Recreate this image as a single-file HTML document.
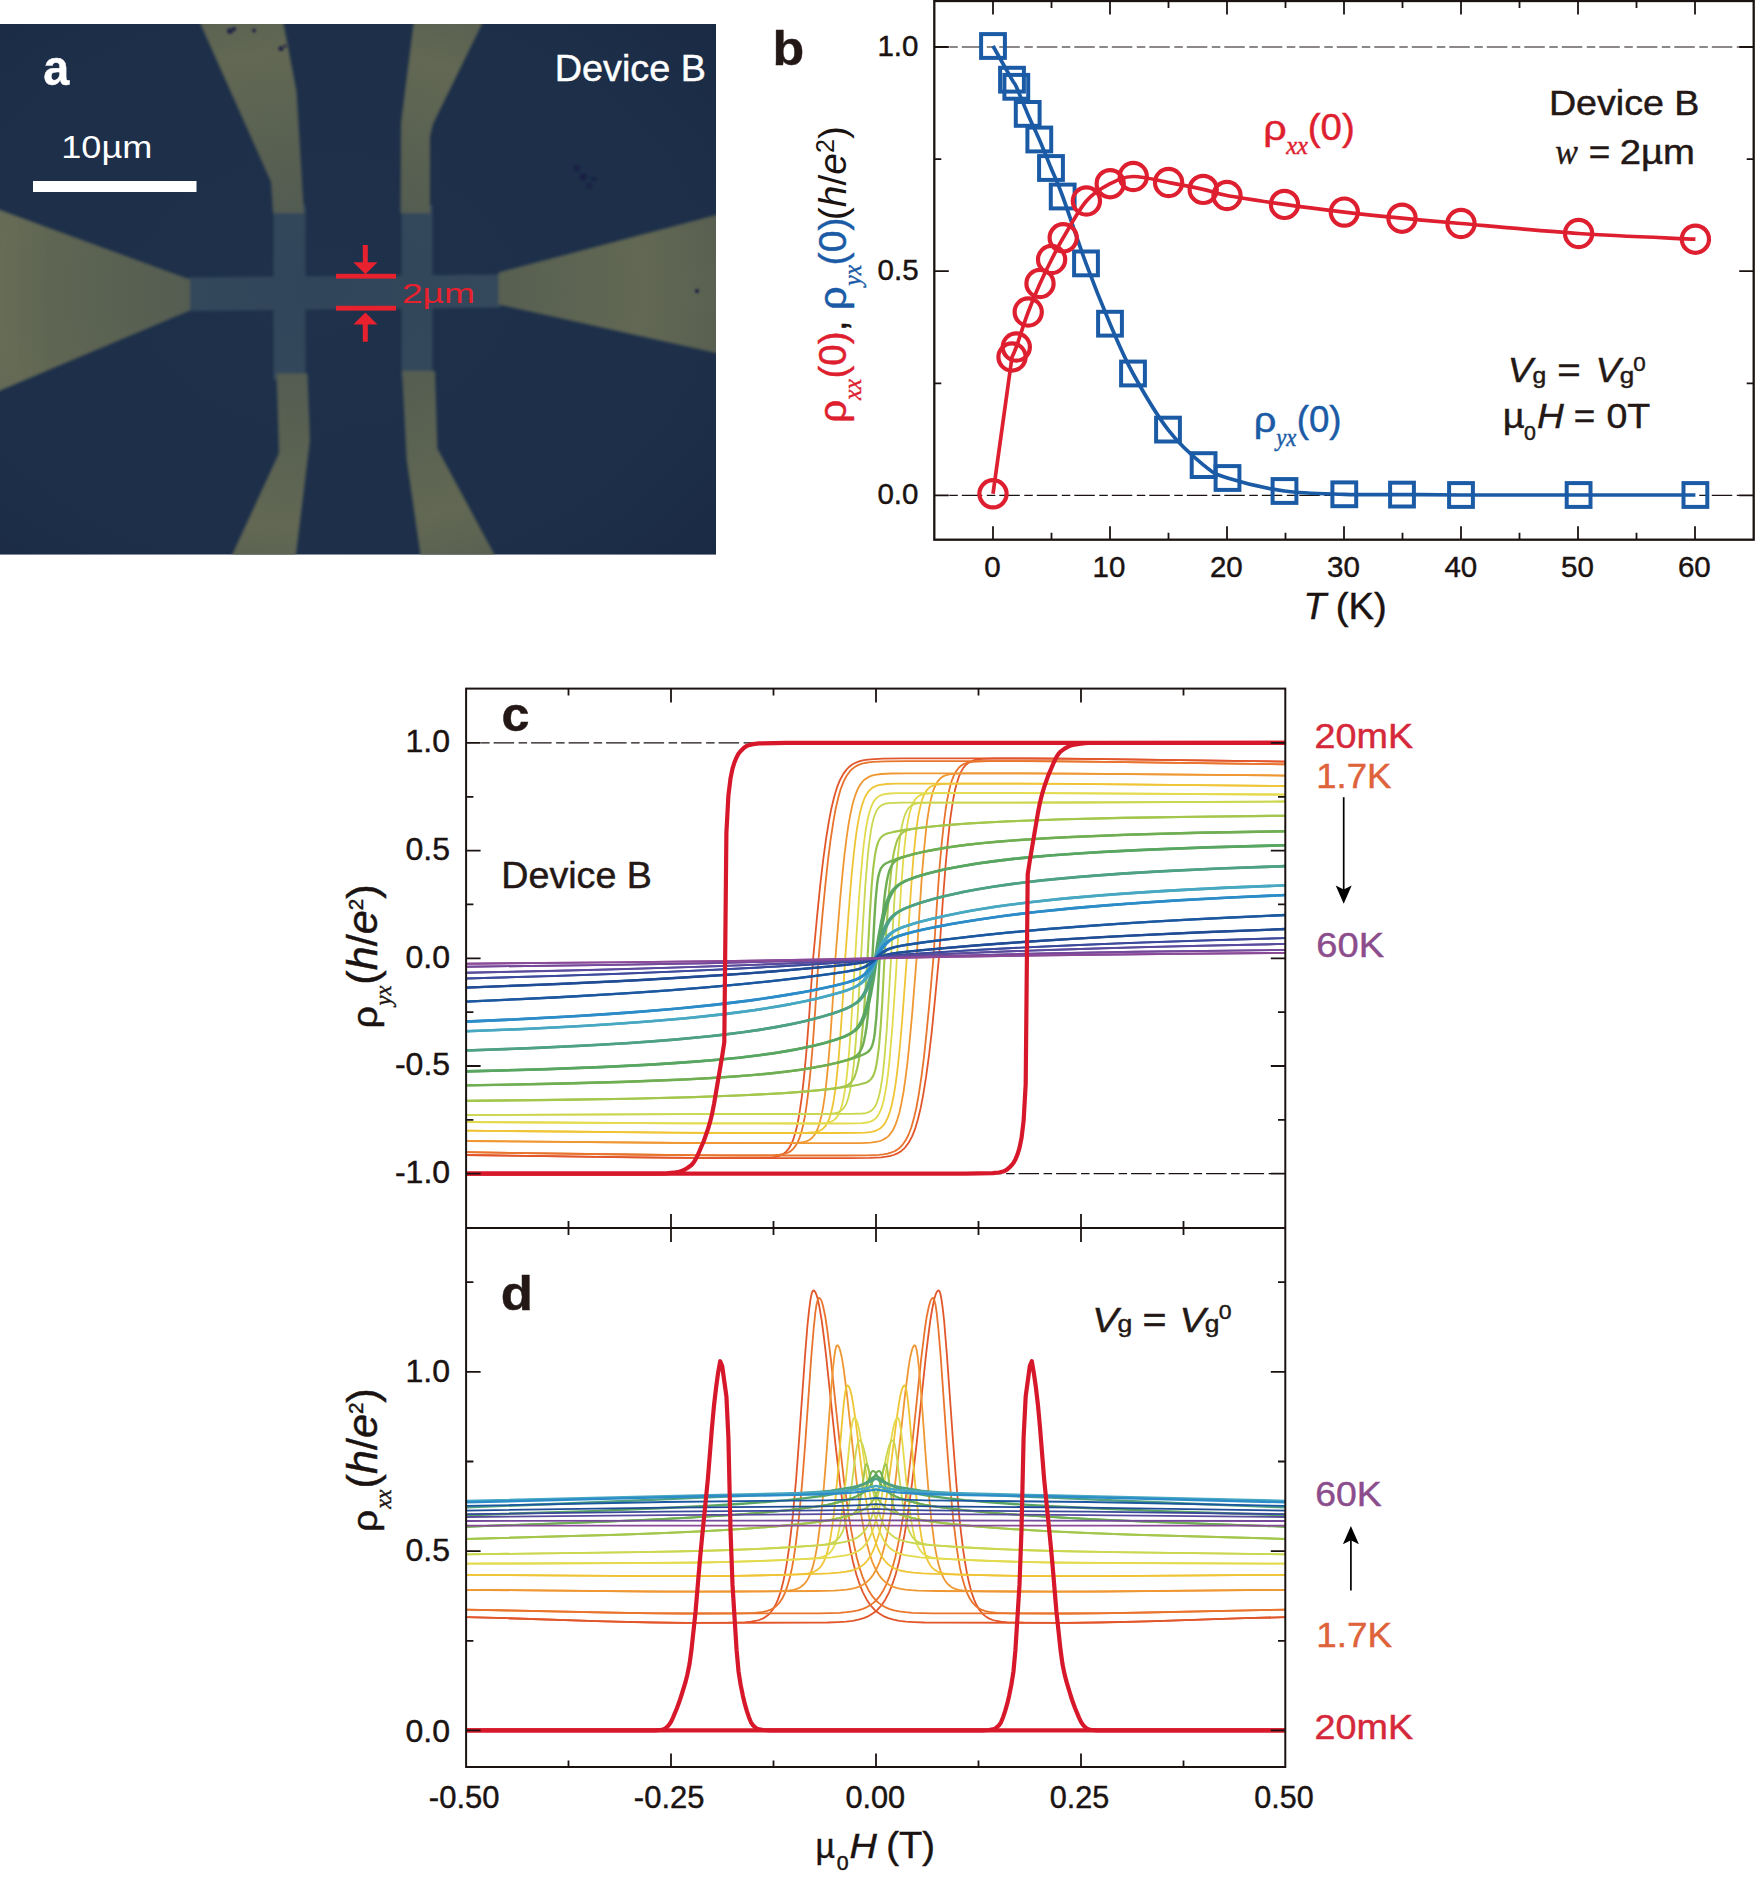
<!DOCTYPE html>
<html lang="en"><head><meta charset="utf-8"><title>Figure</title>
<style>
html,body{margin:0;padding:0;background:#fff;}
body{width:1756px;height:1883px;overflow:hidden;}
svg{display:block;font-family:"Liberation Sans",sans-serif;}
.it{font-style:italic;}
.ser{font-family:"Liberation Serif",serif;font-style:italic;}
</style></head><body>
<svg width="1756" height="1883" viewBox="0 0 1756 1883">
<rect width="1756" height="1883" fill="#fff"/>
<defs>
<clipPath id="clipA"><rect x="0" y="24" width="716" height="530.5"/></clipPath>
<filter id="blurA" x="-5%" y="-5%" width="110%" height="110%"><feGaussianBlur stdDeviation="1.8"/></filter>
<filter id="blurS" x="-50%" y="-50%" width="200%" height="200%"><feGaussianBlur stdDeviation="1.2"/></filter>
<radialGradient id="vigA" cx="0.45" cy="0.5" r="0.75"><stop offset="0" stop-color="#22364f" stop-opacity="0.35"/><stop offset="0.6" stop-color="#1d2f49" stop-opacity="0"/><stop offset="1" stop-color="#141f38" stop-opacity="0.35"/></radialGradient>
<linearGradient id="lgA" x1="0" y1="0" x2="1" y2="0"><stop offset="0" stop-color="#8a8a74" stop-opacity="0.13"/><stop offset="0.3" stop-color="#8a8a70" stop-opacity="0.0"/><stop offset="1" stop-color="#000" stop-opacity="0"/></linearGradient>
</defs>
<g clip-path="url(#clipA)">
<rect x="0" y="24" width="716" height="531" fill="#1d2f49"/>
<g filter="url(#blurA)">
<polygon points="189,277.5 500,274.5 500,307.5 189,311" fill="#384e5f"/>
<rect x="273.5" y="205" width="32" height="175" fill="#384e5f"/>
<rect x="401.5" y="205" width="31" height="172" fill="#384e5f"/>
<polygon points="194.3,10 200.5,24 271,182 273,213 304,213 296.5,91 283.6,24 281,10" fill="#626752"/>
<polygon points="415,10 413.5,24 401,123 400.5,213 430,213 430,137 433,124 482,24 489,10" fill="#626752"/>
<polygon points="-10,206 0,210 190,279.5 190,310.5 0,390.5 -10,395" fill="#626752"/>
<polygon points="730,211.5 716,215 498.5,272.5 498.5,304.5 716,353 730,356" fill="#626752"/>
<polygon points="276.5,373.5 307.5,373.5 310,440 296,554.5 294,570 225,570 232.3,554.5 279,453" fill="#626752"/>
<polygon points="402,371 435,371 437.4,448.5 494.4,554.5 503,570 423,570 420.4,554.5 406.7,460" fill="#626752"/>
</g>
<g filter="url(#blurS)" fill="#1a1f45" opacity="0.85">
<circle cx="230" cy="31" r="3.0"/>
<circle cx="234" cy="29" r="2.2"/>
<circle cx="254" cy="30.5" r="2.0"/>
<circle cx="281" cy="48.5" r="2.6"/>
<circle cx="285" cy="46" r="1.6"/>
<circle cx="577" cy="168" r="2.6"/>
<circle cx="583" cy="177" r="3.2"/>
<circle cx="589" cy="186" r="2.4"/>
<circle cx="594" cy="179" r="2.0"/>
<circle cx="697" cy="291" r="2.2"/>
</g>
<rect x="0" y="24" width="716" height="531" fill="url(#vigA)"/>
<polygon points="-10,206 0,210 190,279.5 190,310.5 0,390.5 -10,395" fill="url(#lgA)" filter="url(#blurA)"/>
</g>
<rect x="33" y="181" width="163.5" height="11" fill="#fff"/>
<text transform="translate(43.20,85.30) scale(0.9434,1.0000)" font-size="49.5" font-weight="bold" fill="#fff" stroke="#fff" stroke-width="0.45">a</text>
<text transform="translate(61.22,157.70) scale(1.1284,1.0000)" font-size="32" fill="#fff">10µm</text>
<text transform="translate(554.79,80.70) scale(1.0353,1.0000)" font-size="36.5" fill="#fff" stroke="#fff" stroke-width="0.45">Device B</text>
<g fill="#e8212f" stroke="none">
<rect x="336" y="273.8" width="60" height="4.8"/>
<rect x="336" y="305.8" width="60" height="4.8"/>
<rect x="362.8" y="245" width="5" height="19"/>
<polygon points="353.3,262.3 377.5,262.3 365.4,274.2"/>
<rect x="362.8" y="323" width="5" height="18.7"/>
<polygon points="353.3,324.4 377.5,324.4 365.4,312.4"/>
</g>
<text transform="translate(401.94,303.20) scale(1.3504,1.0000)" font-size="27.5" fill="#e8212f">2µm</text>
<line x1="949.3" y1="47.0" x2="1739.7" y2="47.0" stroke="#1a1311" stroke-width="1.2" stroke-dasharray="8.5,4,20.5,4.5"/>
<line x1="949.3" y1="495.4" x2="1739.7" y2="495.4" stroke="#1a1311" stroke-width="1.2" stroke-dasharray="8.5,4,20.5,4.5"/>
<path d="M993.0,46.0 C996.2,51.6 1008.1,72.9 1012.0,79.7 C1015.9,86.5 1013.7,81.1 1016.3,86.8 C1018.9,92.5 1023.9,105.1 1027.7,113.9 C1031.5,122.7 1035.4,130.5 1039.3,139.5 C1043.2,148.5 1047.1,158.5 1051.0,168.0 C1054.9,177.5 1056.9,180.6 1062.7,196.5 C1068.5,212.4 1078.1,242.2 1086.0,263.4 C1093.9,284.6 1102.2,305.3 1110.0,323.7 C1117.8,342.1 1123.3,355.9 1133.0,373.5 C1142.7,391.1 1156.2,414.3 1168.0,429.6 C1179.8,444.9 1193.7,457.0 1203.6,465.1 C1213.5,473.2 1214.0,473.7 1227.5,478.0 C1241.0,482.3 1265.0,488.3 1284.5,491.0 C1304.0,493.7 1324.7,493.7 1344.3,494.3 C1363.9,494.9 1382.5,494.5 1402.0,494.6 C1421.5,494.7 1431.6,494.9 1461.0,495.0 C1490.4,495.1 1539.5,495.0 1578.6,495.0 C1617.7,495.0 1675.9,495.0 1695.4,495.0" fill="none" stroke="#1b5ba6" stroke-width="3.7" stroke-linejoin="round"/>
<path d="M993.0,493.8 L1012.0,357.0 C1012.7,355.3 1013.6,354.5 1016.3,347.0 C1019.0,339.5 1024.2,322.6 1028.2,312.0 C1032.2,301.4 1036.1,292.2 1040.0,283.5 C1043.9,274.8 1047.7,267.1 1051.6,259.5 C1055.5,251.9 1057.4,247.6 1063.2,237.8 C1069.0,228.1 1078.6,210.0 1086.4,201.0 C1094.2,192.0 1102.4,187.8 1110.2,183.7 C1118.0,179.6 1123.6,176.7 1133.3,176.5 C1143.0,176.3 1156.9,180.3 1168.6,182.5 C1180.2,184.7 1193.5,187.2 1203.2,189.4 C1212.9,191.6 1213.5,193.0 1227.0,195.5 C1240.5,198.0 1265.0,201.6 1284.5,204.4 C1304.0,207.2 1324.7,209.8 1344.3,212.1 C1363.9,214.4 1382.5,216.3 1402.0,218.2 C1421.5,220.1 1431.6,220.9 1461.0,223.5 C1490.4,226.1 1539.5,230.9 1578.6,233.5 C1617.7,236.1 1675.9,238.2 1695.4,239.2" fill="none" stroke="#de1f30" stroke-width="3.7" stroke-linejoin="round"/>
<rect x="981.1" y="34.1" width="23.8" height="23.8" fill="none" stroke="#1b5ba6" stroke-width="4"/>
<rect x="1000.1" y="67.8" width="23.8" height="23.8" fill="none" stroke="#1b5ba6" stroke-width="4"/>
<rect x="1004.4" y="74.9" width="23.8" height="23.8" fill="none" stroke="#1b5ba6" stroke-width="4"/>
<rect x="1015.8" y="102.0" width="23.8" height="23.8" fill="none" stroke="#1b5ba6" stroke-width="4"/>
<rect x="1027.4" y="127.6" width="23.8" height="23.8" fill="none" stroke="#1b5ba6" stroke-width="4"/>
<rect x="1039.1" y="156.1" width="23.8" height="23.8" fill="none" stroke="#1b5ba6" stroke-width="4"/>
<rect x="1050.8" y="184.6" width="23.8" height="23.8" fill="none" stroke="#1b5ba6" stroke-width="4"/>
<rect x="1074.1" y="251.5" width="23.8" height="23.8" fill="none" stroke="#1b5ba6" stroke-width="4"/>
<rect x="1098.1" y="311.8" width="23.8" height="23.8" fill="none" stroke="#1b5ba6" stroke-width="4"/>
<rect x="1121.1" y="361.6" width="23.8" height="23.8" fill="none" stroke="#1b5ba6" stroke-width="4"/>
<rect x="1156.1" y="417.7" width="23.8" height="23.8" fill="none" stroke="#1b5ba6" stroke-width="4"/>
<rect x="1191.7" y="453.2" width="23.8" height="23.8" fill="none" stroke="#1b5ba6" stroke-width="4"/>
<rect x="1215.6" y="466.1" width="23.8" height="23.8" fill="none" stroke="#1b5ba6" stroke-width="4"/>
<rect x="1272.6" y="479.1" width="23.8" height="23.8" fill="none" stroke="#1b5ba6" stroke-width="4"/>
<rect x="1332.4" y="482.4" width="23.8" height="23.8" fill="none" stroke="#1b5ba6" stroke-width="4"/>
<rect x="1390.1" y="482.7" width="23.8" height="23.8" fill="none" stroke="#1b5ba6" stroke-width="4"/>
<rect x="1449.1" y="483.1" width="23.8" height="23.8" fill="none" stroke="#1b5ba6" stroke-width="4"/>
<rect x="1566.7" y="483.1" width="23.8" height="23.8" fill="none" stroke="#1b5ba6" stroke-width="4"/>
<rect x="1683.5" y="483.1" width="23.8" height="23.8" fill="none" stroke="#1b5ba6" stroke-width="4"/>
<circle cx="993.0" cy="493.8" r="13.6" fill="none" stroke="#de1f30" stroke-width="4.2"/>
<circle cx="1012.0" cy="357.0" r="13.6" fill="none" stroke="#de1f30" stroke-width="4.2"/>
<circle cx="1016.3" cy="347.0" r="13.6" fill="none" stroke="#de1f30" stroke-width="4.2"/>
<circle cx="1028.2" cy="312.0" r="13.6" fill="none" stroke="#de1f30" stroke-width="4.2"/>
<circle cx="1040.0" cy="283.5" r="13.6" fill="none" stroke="#de1f30" stroke-width="4.2"/>
<circle cx="1051.6" cy="259.5" r="13.6" fill="none" stroke="#de1f30" stroke-width="4.2"/>
<circle cx="1063.2" cy="237.8" r="13.6" fill="none" stroke="#de1f30" stroke-width="4.2"/>
<circle cx="1086.4" cy="201.0" r="13.6" fill="none" stroke="#de1f30" stroke-width="4.2"/>
<circle cx="1110.2" cy="183.7" r="13.6" fill="none" stroke="#de1f30" stroke-width="4.2"/>
<circle cx="1133.3" cy="176.5" r="13.6" fill="none" stroke="#de1f30" stroke-width="4.2"/>
<circle cx="1168.6" cy="182.5" r="13.6" fill="none" stroke="#de1f30" stroke-width="4.2"/>
<circle cx="1203.2" cy="189.4" r="13.6" fill="none" stroke="#de1f30" stroke-width="4.2"/>
<circle cx="1227.0" cy="195.5" r="13.6" fill="none" stroke="#de1f30" stroke-width="4.2"/>
<circle cx="1284.5" cy="204.4" r="13.6" fill="none" stroke="#de1f30" stroke-width="4.2"/>
<circle cx="1344.3" cy="212.1" r="13.6" fill="none" stroke="#de1f30" stroke-width="4.2"/>
<circle cx="1402.0" cy="218.2" r="13.6" fill="none" stroke="#de1f30" stroke-width="4.2"/>
<circle cx="1461.0" cy="223.5" r="13.6" fill="none" stroke="#de1f30" stroke-width="4.2"/>
<circle cx="1578.6" cy="233.5" r="13.6" fill="none" stroke="#de1f30" stroke-width="4.2"/>
<circle cx="1695.4" cy="239.2" r="13.6" fill="none" stroke="#de1f30" stroke-width="4.2"/>
<rect x="934.3" y="1.0" width="819.4000000000001" height="538.7" fill="none" stroke="#1a1311" stroke-width="2.3"/>
<path d="M993.0,1.0v13.5M993.0,539.7v-13.5M1051.5,1.0v7M1051.5,539.7v-7M1110.0,1.0v13.5M1110.0,539.7v-13.5M1168.5,1.0v7M1168.5,539.7v-7M1227.0,1.0v13.5M1227.0,539.7v-13.5M1285.5,1.0v7M1285.5,539.7v-7M1344.0,1.0v13.5M1344.0,539.7v-13.5M1402.5,1.0v7M1402.5,539.7v-7M1461.0,1.0v13.5M1461.0,539.7v-13.5M1519.5,1.0v7M1519.5,539.7v-7M1578.0,1.0v13.5M1578.0,539.7v-13.5M1636.5,1.0v7M1636.5,539.7v-7M1695.0,1.0v13.5M1695.0,539.7v-13.5M934.3,495.4h14.5M1753.7,495.4h-14.5M934.3,383.3h7M1753.7,383.3h-7M934.3,271.2h14.5M1753.7,271.2h-14.5M934.3,159.1h7M1753.7,159.1h-7M934.3,47.0h14.5M1753.7,47.0h-14.5" stroke="#1a1311" stroke-width="1.8" fill="none"/>
<text transform="translate(984.31,577.20)" font-size="29.5" fill="#1a1311" stroke="#1a1311" stroke-width="0.45">0</text>
<text transform="translate(1092.56,577.20)" font-size="29.5" fill="#1a1311" stroke="#1a1311" stroke-width="0.45">10</text>
<text transform="translate(1209.94,577.20)" font-size="29.5" fill="#1a1311" stroke="#1a1311" stroke-width="0.45">20</text>
<text transform="translate(1327.12,577.20)" font-size="29.5" fill="#1a1311" stroke="#1a1311" stroke-width="0.45">30</text>
<text transform="translate(1444.38,577.20)" font-size="29.5" fill="#1a1311" stroke="#1a1311" stroke-width="0.45">40</text>
<text transform="translate(1561.06,577.20)" font-size="29.5" fill="#1a1311" stroke="#1a1311" stroke-width="0.45">50</text>
<text transform="translate(1677.94,577.20)" font-size="29.5" fill="#1a1311" stroke="#1a1311" stroke-width="0.45">60</text>
<text transform="translate(877.42,55.60)" font-size="29.5" fill="#1a1311" stroke="#1a1311" stroke-width="0.45">1.0</text>
<text transform="translate(877.55,279.80)" font-size="29.5" fill="#1a1311" stroke="#1a1311" stroke-width="0.45">0.5</text>
<text transform="translate(877.42,504.00)" font-size="29.5" fill="#1a1311" stroke="#1a1311" stroke-width="0.45">0.0</text>
<text transform="translate(1303.55,619.40) scale(1.0299,1.0000)" font-size="36" font-style="italic" fill="#1a1311" stroke="#1a1311" stroke-width="0.45">T</text>
<text transform="translate(1335.82,619.40) scale(1.0598,1.0000)" font-size="36" fill="#1a1311" stroke="#1a1311" stroke-width="0.45">(K)</text>
<text transform="translate(772.46,64.60) scale(1.0599,1.0000)" font-size="49" font-weight="bold" fill="#231815" stroke="#231815" stroke-width="0.45">b</text>
<text transform="translate(845.60,423.07) rotate(-90) scale(1.0817,1)" font-size="38" fill="#de1f30" stroke="#de1f30" stroke-width="0.45">ρ</text>
<text transform="translate(861.40,400.04) rotate(-90) scale(0.9475,1)" font-size="25" font-family="Liberation Serif, serif" font-style="italic" fill="#de1f30" stroke="#de1f30" stroke-width="0.45">xx</text>
<text transform="translate(845.60,378.44) rotate(-90) scale(0.9866,1)" font-size="39" fill="#de1f30" stroke="#de1f30" stroke-width="0.45">(0)</text>
<text transform="translate(845.60,331.30) rotate(-90)" font-size="39" fill="#1a1311" stroke="#1a1311" stroke-width="0.45">,</text>
<text transform="translate(845.60,310.14) rotate(-90) scale(1.1099,1)" font-size="38" fill="#1b5ba6" stroke="#1b5ba6" stroke-width="0.45">ρ</text>
<text transform="translate(861.40,285.80) rotate(-90) scale(0.9409,1)" font-size="25" font-family="Liberation Serif, serif" font-style="italic" fill="#1b5ba6" stroke="#1b5ba6" stroke-width="0.45">yx</text>
<text transform="translate(845.60,265.38) rotate(-90) scale(1.0029,1)" font-size="39" fill="#1b5ba6" stroke="#1b5ba6" stroke-width="0.45">(0)</text>
<text transform="translate(845.6,220.2) rotate(-90)" font-size="39" fill="#1a1311">(<tspan font-style="italic">h</tspan>/<tspan font-style="italic">e</tspan><tspan font-size="25" dy="-11.7">2</tspan><tspan dy="11.7">)</tspan></text>
<text transform="translate(1263.21,139.80) scale(1.1938,1.0000)" font-size="34.5" fill="#de1f30" stroke="#de1f30" stroke-width="0.45">ρ</text>
<text transform="translate(1286.15,153.80) scale(1.0011,1.0000)" font-size="24.5" font-family="Liberation Serif, serif" font-style="italic" fill="#de1f30" stroke="#de1f30" stroke-width="0.45">xx</text>
<text transform="translate(1307.80,139.80) scale(1.0684,1.0000)" font-size="36" fill="#de1f30" stroke="#de1f30" stroke-width="0.45">(0)</text>
<text transform="translate(1253.71,431.80) scale(1.1500,1.0000)" font-size="34.5" fill="#1b5ba6" stroke="#1b5ba6" stroke-width="0.45">ρ</text>
<text transform="translate(1276.15,445.80) scale(0.9270,1.0000)" font-size="24.5" font-family="Liberation Serif, serif" font-style="italic" fill="#1b5ba6" stroke="#1b5ba6" stroke-width="0.45">yx</text>
<text transform="translate(1296.70,431.80) scale(1.0203,1.0000)" font-size="36" fill="#1b5ba6" stroke="#1b5ba6" stroke-width="0.45">(0)</text>
<text transform="translate(1548.91,114.60) scale(1.0755,1.0000)" font-size="35" fill="#231815" stroke="#231815" stroke-width="0.45">Device B</text>
<text transform="translate(1555.29,163.80) scale(0.9290,1.0000)" font-size="36.5" font-family="Liberation Serif, serif" font-style="italic" fill="#231815" stroke="#231815" stroke-width="0.45">w</text>
<text transform="translate(1588.66,163.80) scale(1.0529,1.0000)" font-size="35" fill="#231815" stroke="#231815" stroke-width="0.45">=</text>
<text transform="translate(1619.79,163.80) scale(1.0934,1.0000)" font-size="35" fill="#231815" stroke="#231815" stroke-width="0.45">2µm</text>
<text transform="translate(1507.69,382.40) scale(1.0581,1.0000)" font-size="35.5" font-style="italic" fill="#231815" stroke="#231815" stroke-width="0.45">V</text>
<text transform="translate(1532.62,382.60) scale(1.1200,1.0000)" font-size="22" fill="#231815" stroke="#231815" stroke-width="0.45">g</text>
<text transform="translate(1557.22,382.40) scale(1.1304,1.0000)" font-size="35.5" fill="#231815" stroke="#231815" stroke-width="0.45">=</text>
<text transform="translate(1595.39,382.40) scale(1.0581,1.0000)" font-size="35.5" font-style="italic" fill="#231815" stroke="#231815" stroke-width="0.45">V</text>
<text transform="translate(1619.67,382.60) scale(1.1800,1.0000)" font-size="22" fill="#231815" stroke="#231815" stroke-width="0.45">g</text>
<text transform="translate(1633.20,370.60) scale(1.0667,1.0000)" font-size="21" fill="#231815" stroke="#231815" stroke-width="0.45">0</text>
<text transform="translate(1502.83,427.60) scale(1.0824,1.0000)" font-size="35" fill="#231815" stroke="#231815" stroke-width="0.45">µ</text>
<text transform="translate(1524.02,439.80) scale(1.0430,1.0000)" font-size="20.5" fill="#231815" stroke="#231815" stroke-width="0.45">0</text>
<text transform="translate(1537.02,427.60) scale(1.0449,1.0000)" font-size="35.5" font-style="italic" fill="#231815" stroke="#231815" stroke-width="0.45">H</text>
<text transform="translate(1573.78,427.60) scale(1.0377,1.0000)" font-size="35.5" fill="#231815" stroke="#231815" stroke-width="0.45">=</text>
<text transform="translate(1606.45,427.60) scale(1.0573,1.0000)" font-size="35.5" fill="#231815" stroke="#231815" stroke-width="0.45">0T</text>
<defs><clipPath id="clipC"><rect x="466.1" y="688.6" width="819.1999999999999" height="539.3000000000001"/></clipPath>
<clipPath id="clipD"><rect x="466.1" y="1227.9" width="819.1999999999999" height="539.0999999999999"/></clipPath></defs>
<path d="M481.1,742.9H1271.3M481.1,1173.7H1271.3" stroke="#1a1311" stroke-width="1.2" stroke-dasharray="8.5,4,20.5,4.5" fill="none"/>
<g clip-path="url(#clipC)" fill="none" stroke-linejoin="round" stroke-linecap="round">
<path d="M466,1155L662.8,1157.7L718.1,1158.1L757.1,1158.1L769.4,1157.7L773.1,1157.3L776.4,1156.7L779.2,1155.9L781.7,1154.8L784.2,1153.3L786.2,1151.6L788.7,1148.7L791.1,1144.5L793.2,1139.7L795.2,1133.3L796.9,1126.8L798.5,1118.8L800.1,1108.9L801.8,1097.1L804.2,1075.1L806.3,1052.6L809.2,1015.4L812.9,960.8L817,917.2L820.2,885.3L823.1,860.5L826,839.2L828.9,821.3L831.3,808.7L834.2,796.8L837,787.4L839.9,780.2L843.2,774.1L846.5,769.6L848.5,767.5L850.6,765.7L852.6,764.3L855.1,763L858.4,761.6L861.6,760.7L865.8,759.9L870.7,759.3L882.6,758.7L902.6,758.4L1009.2,758.4L1062.5,758.7L1122,759.3L1286,761.6" stroke="#e2562b" stroke-width="1.8"/>
<path d="M466,1155L630,1157.3L689.5,1157.9L742.8,1158.2L849.4,1158.2L869.4,1157.9L881.3,1157.3L886.2,1156.7L890.4,1155.9L893.6,1155L896.9,1153.6L899.4,1152.3L901.4,1150.9L903.5,1149.1L905.5,1147L908.8,1142.5L912.1,1136.4L915,1129.2L917.8,1119.8L920.7,1107.9L923.1,1095.3L926,1077.4L928.9,1056.1L931.8,1031.3L935,999.4L939.1,955.8L942.8,901.2L945.7,864L947.8,841.5L950.2,819.5L951.9,807.7L953.5,797.8L955.1,789.8L956.8,783.3L958.8,776.9L960.9,772.1L963.3,767.9L965.8,765L967.8,763.3L970.3,761.8L972.8,760.7L975.6,759.9L978.9,759.3L982.6,758.9L994.9,758.5L1033.8,758.5L1089.2,758.9L1286,761.6" stroke="#e2562b" stroke-width="1.8"/>
<path d="M466,1152.2L664.9,1155L720.2,1155.4L763.2,1155.4L775.5,1155.1L779.6,1154.7L782.9,1154.2L785.8,1153.5L788.3,1152.5L790.7,1151.1L792.8,1149.3L795.2,1146.4L797.7,1142.2L799.7,1137.3L801.4,1132.1L803,1125.6L804.7,1117.4L806.3,1107.4L807.9,1095.1L810.4,1072.1L812.5,1048.4L815.3,1009L818.6,958.3L822.7,912.2L825.6,882.6L828,860L830.5,840.3L833.4,821.3L835.8,808.1L838.3,797.5L840.7,789.1L843.6,781.6L846.5,776L849.8,771.4L851.4,769.7L853.5,767.9L855.5,766.5L858,765.1L861.2,763.9L864.5,763L868.6,762.3L873.1,761.8L885,761.3L906.8,761.1L1011.3,761.1L1064.6,761.4L1124,762.1L1286,764.4" stroke="#e8742d" stroke-width="1.8"/>
<path d="M466,1152.2L628,1154.5L687.4,1155.2L740.7,1155.5L845.2,1155.5L867,1155.3L878.9,1154.8L883.4,1154.3L887.5,1153.6L890.8,1152.7L894,1151.5L896.5,1150.1L898.5,1148.7L900.6,1146.9L902.2,1145.2L905.5,1140.6L908.4,1135L911.3,1127.5L913.7,1119.1L916.2,1108.5L918.6,1095.3L921.5,1076.3L924,1056.6L926.4,1034L929.3,1004.4L933.4,958.3L936.7,907.6L939.5,868.2L941.6,844.5L944.1,821.5L945.7,809.2L947.3,799.2L949,791L950.6,784.5L952.3,779.3L954.3,774.4L956.8,770.2L959.2,767.3L961.3,765.5L963.7,764.1L966.2,763.1L969.1,762.4L972.4,761.9L976.5,761.5L988.8,761.2L1031.8,761.2L1087.2,761.6L1286,764.4" stroke="#e8742d" stroke-width="1.8"/>
<path d="M466,1141L673,1142.9L730.5,1143.2L785.4,1143.2L796.5,1142.9L803,1142.2L805.5,1141.6L807.9,1140.7L810,1139.5L811.6,1138.3L814.1,1135.5L816.1,1132.2L818.2,1127.5L819.8,1122.3L821.5,1115.7L823.1,1107.1L824.8,1096.2L826,1086.3L828,1066.1L830.1,1041L832.5,1005.2L835.4,958.3L839.9,902L842.4,874.9L844.4,855.3L846.5,838.5L848.5,824.6L850.6,813.2L852.6,804.1L854.7,797L857.1,790.4L859.6,785.6L862.5,781.7L864.1,780L865.8,778.7L869.4,776.6L871.9,775.6L874.8,774.9L881.3,774L890.8,773.5L907.6,773.4L1011.3,773.4L1064.6,773.6L1286,775.6" stroke="#ef9732" stroke-width="1.8"/>
<path d="M466,1141L687.4,1143L740.7,1143.2L844.4,1143.2L861.2,1143.1L870.7,1142.6L877.2,1141.7L880.1,1141L882.6,1140L886.2,1137.9L887.9,1136.6L889.5,1134.9L892.4,1131L894.9,1126.2L897.3,1119.6L899.4,1112.5L901.4,1103.4L903.5,1092L905.5,1078.1L907.6,1061.3L909.6,1041.7L912.1,1014.6L916.6,958.3L919.5,911.4L921.9,875.6L924,850.5L926,830.3L927.2,820.4L928.9,809.5L930.5,800.9L932.2,794.3L933.8,789.1L935.9,784.4L937.9,781.1L940.4,778.3L942,777.1L944.1,775.9L946.5,775L949,774.4L955.5,773.7L966.6,773.4L1021.5,773.4L1079,773.7L1286,775.6" stroke="#ef9732" stroke-width="1.8"/>
<path d="M466,1130.6L677.1,1132.7L732.5,1133L797.7,1133L808.4,1132.7L814.9,1132.1L817.4,1131.5L819.4,1130.8L821.5,1129.8L823.1,1128.6L825.6,1125.9L827.6,1122.4L829.3,1118.6L830.9,1113.4L832.5,1106.5L833.8,1099.9L835.4,1088.9L836.6,1078.7L838.7,1057.6L840.3,1036.8L842.4,1006.3L845.2,958.3L849.8,897L851.8,873.1L853.5,856.5L855.1,842.3L856.7,830.4L858.4,820.6L860,812.7L862.1,804.9L864.1,799.2L866.6,794.2L869,790.8L871.9,788.1L875.2,786.3L877.6,785.4L880.1,784.8L886.7,784L896.1,783.7L914.5,783.6L1013.4,783.6L1066.7,783.8L1286,786" stroke="#efc435" stroke-width="1.8"/>
<path d="M466,1130.6L685.4,1132.8L738.6,1133L837.5,1133L855.9,1132.9L865.3,1132.6L871.9,1131.8L874.4,1131.2L876.8,1130.3L880.1,1128.5L883,1125.8L885.4,1122.4L887.9,1117.4L889.9,1111.7L892,1103.9L893.6,1096L895.3,1086.2L896.9,1074.3L898.5,1060.1L900.2,1043.5L902.2,1019.6L906.8,958.3L909.6,910.3L911.7,879.8L913.3,859L915.4,837.9L916.6,827.7L918.2,816.7L919.5,810.1L921.1,803.2L922.7,798L924.4,794.2L926.4,790.7L928.9,788L930.5,786.8L932.6,785.8L934.6,785.1L937.1,784.5L943.6,783.9L954.3,783.6L1019.5,783.6L1074.9,783.9L1286,786" stroke="#efc435" stroke-width="1.8"/>
<path d="M466,1122L681.2,1123.3L811.2,1123.5L821.1,1123.3L826.8,1122.8L830.9,1121.7L832.5,1121L834.2,1119.9L836.6,1117.5L838.7,1114.2L840.3,1110.4L842,1105.1L843.6,1097.9L844.8,1090.9L846.1,1082.2L847.3,1071.7L848.9,1054.3L851,1027L856.3,938.6L859.6,890L862.5,856.4L863.7,845L865.3,832.5L866.6,824.9L868.2,816.8L869.9,810.7L871.5,806L873.5,801.9L875.6,799L878.1,796.8L880.9,795.2L884.6,794.1L889.9,793.5L896.9,793.2L909.6,793.1L1064.6,793.2L1286,794.6" stroke="#e3da4e" stroke-width="1.8"/>
<path d="M466,1122L687.4,1123.4L842.4,1123.5L855.1,1123.4L862.1,1123.1L867.4,1122.5L871.1,1121.4L874,1119.8L876.4,1117.6L878.5,1114.7L880.5,1110.6L882.2,1105.9L883.8,1099.8L885.4,1091.7L886.7,1084.1L888.3,1071.6L889.5,1060.2L892.4,1026.6L895.7,978L901,889.6L903.1,862.3L904.7,844.9L905.9,834.4L907.2,825.7L908.4,818.7L910,811.5L911.7,806.2L913.3,802.4L915.4,799.1L917.8,796.7L919.5,795.6L921.1,794.9L925.2,793.8L930.9,793.3L940.8,793.1L1070.8,793.3L1286,794.6" stroke="#e3da4e" stroke-width="1.8"/>
<path d="M466,1115.1L679.2,1114.1L823.1,1113.9L830.5,1113.7L835,1113.2L838.3,1112.3L841.1,1110.7L843.2,1108.8L845.2,1105.8L846.9,1102.3L848.5,1097.2L850.2,1090.1L851.4,1083.1L852.6,1074.3L853.9,1063.4L855.5,1045.4L857.6,1016.9L863.3,917.8L865.3,885.8L867.4,860.1L868.6,847.9L869.9,837.9L871.1,829.9L872.3,823.6L873.5,818.7L875.2,813.8L876.8,810.3L878.9,807.5L880.9,805.7L883.4,804.4L886.2,803.5L889.5,803.1L900.6,802.7L1064.6,802.5L1286,801.5" stroke="#cbd750" stroke-width="1.8"/>
<path d="M466,1115.1L687.4,1114.1L851.4,1113.9L862.5,1113.5L865.8,1113.1L868.6,1112.2L871.1,1110.9L873.1,1109.1L875.2,1106.3L876.8,1102.8L878.5,1097.9L879.7,1093L880.9,1086.7L882.2,1078.7L883.4,1068.7L884.6,1056.5L886.7,1030.8L888.7,998.8L894.4,899.7L896.5,871.2L898.1,853.2L899.4,842.3L900.6,833.5L901.8,826.5L903.5,819.4L905.1,814.3L906.8,810.8L908.8,807.8L910.9,805.9L913.7,804.3L917,803.4L921.5,802.9L928.9,802.7L1072.8,802.5L1286,801.5" stroke="#cbd750" stroke-width="1.8"/>
<path d="M466,1100.9L554.1,1099.9L628,1098.7L689.5,1097.3L738.6,1095.5L761.2,1094.4L782.1,1093.2L800.6,1091.9L817.4,1090.4L830.9,1088.9L839.5,1087.6L844.8,1086.3L846.9,1085.5L848.5,1084.6L850.6,1082.9L852.6,1080.4L854.3,1077.4L855.9,1073L857.1,1068.6L858.4,1062.8L859.6,1055.3L860.8,1045.9L862.9,1025.3L865.3,992.4L867.4,960.4L869.9,913.3L871.5,888L873.1,869.3L874.8,856.4L875.6,851.8L876.8,846.4L878,842.6L879.3,839.9L880.9,837.5L882.6,835.9L884.6,834.6L887.1,833.5L893.6,831.9L904.7,829.9L918.6,828L933.8,826.3L949.8,824.9L967.8,823.5L1009.2,821.3L1058.5,819.5L1120,817.9L1193.8,816.7L1286,815.7" stroke="#a3c64c" stroke-width="2.1"/>
<path d="M466,1100.9L558.2,1099.9L632,1098.7L693.5,1097.1L742.8,1095.3L784.2,1093.1L802.2,1091.7L818.2,1090.3L833.4,1088.6L847.3,1086.7L858.4,1084.7L864.9,1083.1L867.4,1082L869.4,1080.7L871.1,1079.1L872.7,1076.7L874,1074L875.2,1070.2L876.4,1064.8L877.2,1060.2L878.9,1047.3L880.5,1028.6L882.2,1003.3L884.6,956.2L886.7,924.2L889.1,891.3L891.2,870.7L892.4,861.3L893.6,853.8L894.9,848L896.1,843.6L897.7,839.2L899.4,836.2L901.4,833.7L903.5,832L905.1,831.1L907.2,830.3L912.5,829L921.1,827.7L934.6,826.2L951.4,824.7L969.9,823.4L990.8,822.2L1013.4,821.1L1062.5,819.3L1124,817.9L1197.9,816.7L1286,815.7" stroke="#a3c64c" stroke-width="2.1"/>
<path d="M466,1085.4L554.1,1083.8L625.9,1081.8L685.4,1079.4L712,1078L734.5,1076.5L755,1074.9L774.7,1073L792.4,1070.9L807.9,1068.6L823.1,1065.9L836.6,1062.9L847.3,1060L851,1058.7L853.9,1057.4L856.3,1055.8L858.4,1053.9L860,1051.7L861.6,1048.5L862.9,1045.1L864.1,1040.6L865.3,1034.5L866.6,1026.5L867.8,1016.2L869,1003.5L871.5,971.8L872.3,960.2L874.4,918.7L875.6,900L877.2,883.6L878,878.2L878.9,874.3L879.7,871.5L880.9,868.5L882.6,866.1L884.2,864.6L886.7,863L889.9,861.6L895.3,859.5L901.4,857.5L912.1,854.5L924,851.7L936.7,849.3L951,846.9L967,844.8L984.7,842.9L1003.1,841.2L1023.6,839.7L1046.2,838.2L1072.8,836.9L1130.2,834.6L1199.9,832.8L1286,831.2" stroke="#6fae52" stroke-width="2.4"/>
<path d="M466,1085.4L552.1,1083.8L621.8,1082L679.2,1079.7L705.9,1078.4L728.4,1076.9L748.9,1075.4L767.4,1073.7L785,1071.8L801,1069.7L815.3,1067.3L828,1064.9L839.9,1062.1L850.6,1059.1L856.7,1057.1L862.1,1055L865.3,1053.6L867.8,1052L869.4,1050.5L871.1,1048.1L872.3,1045.1L873.1,1042.3L874,1038.4L874.8,1033L876.4,1016.6L877.6,997.9L879.7,956.4L880.5,944.8L883,913.1L884.2,900.4L885.4,890.1L886.7,882.1L887.9,876L889.1,871.5L890.4,868.1L892,864.9L893.6,862.7L895.7,860.8L898.1,859.2L901,857.9L904.7,856.6L915.4,853.7L928.9,850.7L944.1,848L959.6,845.7L977.3,843.6L996.9,841.7L1017.5,840.1L1040,838.6L1066.7,837.2L1126.1,834.8L1197.9,832.8L1286,831.2" stroke="#6fae52" stroke-width="2.4"/>
<path d="M466,1071.4L546,1069.2L613.6,1066.5L644.4,1065L671,1063.4L695.6,1061.6L718.1,1059.7L738.6,1057.7L759.1,1055.2L777.2,1052.7L793.6,1049.9L809.2,1046.8L823.1,1043.4L835.4,1039.8L844.4,1036.5L848.5,1034.5L851.8,1032.5L854.7,1030.2L857.1,1027.6L859.2,1024.7L861.2,1021.1L863.3,1016.3L864.9,1011.5L867.8,1000.6L870.3,988.4L872.7,973.8L878,939.4L881.3,921.3L883,913.9L885,906.3L887.1,900.4L889.1,895.8L891.6,891.6L894,888.6L896.9,885.9L900.6,883.4L905.1,881L910.4,878.9L917.4,876.5L925.6,874.1L937.5,871L950.2,868.3L964.1,865.7L979.3,863.2L994.9,861.1L1013.4,858.9L1031.8,857.1L1052.3,855.3L1097.4,852.2L1150.7,849.5L1212.2,847.2L1286,845.2" stroke="#58a662" stroke-width="2.6"/>
<path d="M466,1071.4L539.8,1069.4L601.3,1067.1L654.6,1064.4L699.7,1061.3L720.2,1059.5L738.6,1057.7L757.1,1055.5L772.7,1053.4L787.9,1050.9L801.8,1048.3L814.5,1045.6L826.4,1042.5L834.6,1040.1L841.6,1037.7L846.9,1035.6L851.4,1033.2L855.1,1030.7L858,1028L860.4,1025L862.9,1020.8L864.9,1016.2L867,1010.3L869,1002.7L870.7,995.3L874,977.2L879.3,942.8L881.7,928.2L884.2,916L887.1,905.1L888.7,900.3L890.8,895.5L892.8,891.9L894.9,889L897.3,886.4L900.2,884.1L903.5,882.1L907.6,880.1L916.6,876.8L928.9,873.2L942.8,869.8L958.4,866.7L974.8,863.9L992.8,861.4L1013.4,858.9L1033.8,856.9L1056.4,855L1081,853.2L1107.7,851.6L1138.4,850.1L1206,847.4L1286,845.2" stroke="#58a662" stroke-width="2.6"/>
<path d="M466,1050.5L537.8,1047.9L599.2,1044.8L625.9,1043.2L652.6,1041.4L677.1,1039.4L699.7,1037.3L720.2,1035.1L740.7,1032.5L759.1,1029.9L775.5,1027.1L791.1,1024.2L805.9,1020.9L819.8,1017.3L832.1,1013.7L838.7,1011.4L844.4,1009.2L848.9,1007.2L852.6,1005.2L855.9,1002.9L858.4,1000.7L860.8,997.9L862.9,995L864.5,992L866.2,988.5L869.4,979.5L872.3,969.5L878.9,944L880.9,937.1L882.6,932.4L884.6,927.4L887.1,922.7L889.5,919.2L892,916.4L895.3,913.6L899.4,911.1L904.7,908.5L911.3,905.9L920.3,902.8L930.1,899.9L940.8,897L951.9,894.4L964.6,891.7L977.7,889.2L992.8,886.7L1007.2,884.6L1040,880.6L1079,876.9L1122,873.6L1169.2,870.9L1224.5,868.3L1286,866.1" stroke="#4ea183" stroke-width="2.6"/>
<path d="M466,1050.5L527.5,1048.3L582.9,1045.7L630,1043L673,1039.7L712,1036L744.8,1032L759.1,1029.9L774.3,1027.4L787.4,1024.9L800.1,1022.2L811.2,1019.6L821.9,1016.7L831.7,1013.8L840.7,1010.7L847.3,1008.1L852.6,1005.5L856.7,1003L860,1000.2L862.5,997.4L864.9,993.9L867.4,989.2L869.4,984.2L871.1,979.5L873.1,972.6L879.7,947.1L882.6,937.1L885.8,928.1L887.5,924.6L889.1,921.6L891.2,918.7L893.6,915.9L896.1,913.7L899.4,911.4L903.1,909.4L907.6,907.4L913.3,905.2L919.9,902.9L932.2,899.3L946.1,895.7L960.9,892.4L976.5,889.5L992.8,886.7L1011.3,884.1L1031.8,881.5L1052.3,879.3L1074.9,877.2L1099.5,875.2L1126.1,873.4L1152.8,871.8L1214.2,868.7L1286,866.1" stroke="#4ea183" stroke-width="2.6"/>
<path d="M466,1031.3L529.5,1028.7L587,1025.7L638.2,1022.3L683.3,1018.5L703.8,1016.4L724.3,1014.1L742.8,1011.8L759.1,1009.5L775.5,1006.8L790.7,1004.1L805.1,1001.2L818.6,998.2L835.4,993.8L842.4,991.7L848.1,989.8L852.2,988.2L855.9,986.3L858.8,984.6L861.2,982.6L863.3,980.6L865.3,978.1L867.4,975L869,972.1L872.3,965.2L878.9,949.6L880.9,945.4L883,941.8L885.4,938.3L887.9,935.5L890.8,933.1L893.6,931.2L898.1,929L903.9,926.7L912.1,924.1L921.9,921.3L933,918.5L944.5,915.9L956.8,913.4L969.5,911L996.9,906.5L1027.7,902.5L1060.5,898.9L1097.4,895.6L1138.4,892.6L1183.5,889.9L1232.7,887.4L1286,885.3" stroke="#48a8c2" stroke-width="2.6"/>
<path d="M466,1031.3L519.3,1029.2L568.5,1026.7L613.6,1024L654.6,1021L691.5,1017.7L724.3,1014.1L755,1010.1L782.5,1005.6L795.2,1003.2L807.5,1000.7L819,998.1L830.1,995.3L839.9,992.5L848.1,989.9L853.9,987.6L858.4,985.4L861.2,983.5L864.1,981.1L866.6,978.3L869,974.8L871.1,971.2L873.1,967L879.7,951.4L883,944.5L884.6,941.6L886.7,938.5L888.7,936L890.8,934L893.2,932L896.1,930.3L899.8,928.4L903.9,926.8L909.6,924.9L916.6,922.8L933.4,918.4L946.9,915.4L961.3,912.5L976.5,909.8L992.8,907.1L1009.2,904.8L1027.7,902.5L1048.2,900.2L1068.7,898.1L1113.8,894.3L1165,890.9L1222.5,887.9L1286,885.3" stroke="#48a8c2" stroke-width="2.6"/>
<path d="M466,1021.6L525.5,1018.9L578.8,1016L628,1012.6L673,1009L714,1004.9L751,1000.4L784.2,995.4L799.7,992.8L814.5,990L833,986L846.9,982.5L855.1,979.8L858,978.5L860.8,976.9L862.9,975.4L864.9,973.6L868.6,969.3L871.9,964.2L879.3,951.1L881.3,948L883.4,945.4L885.8,942.9L888.3,940.9L891.2,939.1L894,937.7L899,935.8L905.5,933.9L914.5,931.6L925.6,929.1L950.2,924.2L977.3,919.7L1005.1,915.7L1035.9,912L1068.7,908.6L1105.6,905.4L1144.5,902.5L1187.6,899.8L1234.8,897.3L1286,895" stroke="#2b8cc8" stroke-width="2.6"/>
<path d="M466,1021.6L517.2,1019.3L564.4,1016.8L607.5,1014.1L646.4,1011.2L683.3,1008L716.1,1004.6L746.9,1000.9L774.7,996.9L801.8,992.4L826.4,987.5L837.5,985L846.5,982.7L853,980.8L858,978.9L860.8,977.5L863.7,975.7L866.2,973.7L868.6,971.2L870.7,968.6L872.7,965.5L880.1,952.4L883.4,947.3L887.1,943L889.1,941.2L891.2,939.7L894,938.1L896.9,936.8L905.1,934.1L919,930.6L937.5,926.6L952.3,923.8L967.8,921.2L1001,916.2L1038,911.7L1079,907.6L1124,904L1173.2,900.6L1226.5,897.7L1286,895" stroke="#2b8cc8" stroke-width="2.6"/>
<path d="M466,1001.6L521.4,999.1L572.6,996.5L619.8,993.7L664.9,990.6L705.9,987.4L744.8,983.9L780.1,980.2L813.3,976.2L833,973.6L847.3,971.4L855.1,969.9L860.8,968.3L864.9,966.5L868.6,964.2L871.9,961.4L879.3,954.5L883.4,951.4L885.8,950L888.3,948.9L894,947.2L905.5,945L928.5,941.7L955.5,938.3L984.7,935L1015.4,931.9L1048.2,929L1083,926.3L1117.9,923.8L1156.8,921.4L1197.9,919.1L1286,915" stroke="#1c58a0" stroke-width="2.3"/>
<path d="M466,1001.6L554.1,997.5L595.1,995.2L634.1,992.8L669,990.3L703.8,987.6L736.6,984.7L767.4,981.6L796.5,978.3L823.5,974.9L846.5,971.6L858,969.4L863.7,967.7L866.2,966.6L868.6,965.2L872.7,962.1L880.1,955.2L883.4,952.4L887.1,950.1L891.2,948.3L896.9,946.7L904.7,945.2L919,943L938.7,940.4L971.9,936.4L1007.2,932.7L1046.2,929.2L1087.2,926L1132.2,922.9L1179.4,920.1L1230.7,917.5L1286,915" stroke="#1c58a0" stroke-width="2.3"/>
<path d="M466,987.6L558.2,984L642.3,980L716.1,975.5L751,973.1L782.9,970.6L831.3,966.3L848.5,964.5L858.4,963.2L863.3,962.3L867.8,961.1L871.5,959.8L879.7,956.5L884.2,955.1L889.9,953.9L898.1,952.7L919.5,950.4L949.4,947.7L979.7,945.1L1011.3,942.8L1070.8,938.9L1136.3,935.3L1208.1,932L1286,929" stroke="#1f4c94" stroke-width="2.3"/>
<path d="M466,987.6L543.9,984.6L615.6,981.3L681.2,977.7L740.7,973.8L772.3,971.5L802.6,968.9L832.5,966.2L853.9,963.9L862.1,962.7L867.8,961.5L872.3,960.1L880.5,956.8L884.2,955.5L888.7,954.3L893.6,953.4L903.5,952.1L920.7,950.3L969.1,946L1001,943.5L1035.9,941.1L1109.7,936.6L1193.8,932.6L1286,929" stroke="#1f4c94" stroke-width="2.3"/>
<path d="M466,978.5L554.1,976L634.1,973.2L707.9,970.1L773.5,966.8L823.5,963.7L857.1,961.3L867.8,959.9L879.7,957.3L884.6,956.4L890.8,955.6L899.8,954.8L956.4,951.1L1021.5,947.6L1079,945L1142.5,942.5L1212.2,940.2L1286,938.1" stroke="#3c4a9b" stroke-width="1.9"/>
<path d="M466,978.5L539.8,976.4L609.5,974.1L673,971.6L730.5,969L795.6,965.5L852.2,961.8L861.2,961L867.4,960.2L872.3,959.3L884.2,956.7L894.9,955.3L928.5,952.9L978.5,949.8L1044.1,946.5L1117.9,943.4L1197.9,940.6L1286,938.1" stroke="#3c4a9b" stroke-width="1.9"/>
<path d="M466,972.7L550,971L625.9,969L695.6,966.9L761.2,964.6L813.3,962.4L855.5,960.2L867,959.4L885.8,957.1L905.9,955.8L964.6,953.1L1029.8,950.6L1087.2,948.7L1148.7,947L1286,943.9" stroke="#5a4b9d" stroke-width="1.9"/>
<path d="M466,972.7L603.3,969.6L664.9,967.9L722.2,966L787.4,963.5L846.1,960.8L866.2,959.5L885,957.2L896.5,956.4L938.7,954.2L990.8,952L1056.4,949.7L1126.1,947.6L1202,945.6L1286,943.9" stroke="#5a4b9d" stroke-width="1.9"/>
<path d="M466,966.7L597.2,965.1L705.9,963.2L804.7,960.8L845.7,959.5L928.9,956.4L1013.4,954.1L1136.3,951.8L1286,949.9" stroke="#75499a" stroke-width="1.9"/>
<path d="M466,966.7L597.2,965.1L705.9,963.2L804.7,960.8L845.7,959.5L928.9,956.4L1013.4,954.1L1136.3,951.8L1286,949.9" stroke="#75499a" stroke-width="1.9"/>
<path d="M466,963.7L611.5,962.4L734.5,960.9L820.6,959.5L950.2,956.7L1050.2,955.2L1158.9,954L1286,952.9" stroke="#8a4a98" stroke-width="1.9"/>
<path d="M466,963.7L611.5,962.4L734.5,960.9L820.6,959.5L950.2,956.7L1050.2,955.2L1158.9,954L1286,952.9" stroke="#8a4a98" stroke-width="1.9"/>
<path d="M466,1173.7L662.8,1173.6L666.9,1173.4L673,1172.7L679.2,1171.7L681.2,1171.1L683.3,1170.3L687.4,1168L691.5,1165L693.5,1162.7L695.6,1159.4L697.7,1155.3L703.8,1141L707.9,1129.3L710,1122.2L712,1114.2L714,1104.1L722.2,1055.9L724.3,1042.2L726.4,832.6L728.4,795.5L730.5,778.4L732.5,768.7L734.5,762.2L736.6,757.2L738.6,753.6L740.7,751L742.8,748.9L744.8,747.2L746.9,745.9L748.9,745.1L753,744.1L759.1,743.4L786.2,742.9L1286,742.9" stroke="#d7182b" stroke-width="4.2"/>
<path d="M466,1173.7L965.8,1173.7L992.8,1173.2L999,1172.5L1003.1,1171.5L1005.1,1170.7L1007.2,1169.4L1009.2,1167.7L1011.3,1165.6L1013.4,1163L1015.4,1159.4L1017.5,1154.4L1019.5,1147.9L1021.5,1138.2L1023.6,1121.1L1025.7,1084L1027.7,874.4L1029.8,860.7L1038,812.5L1040,802.4L1042,794.4L1044.1,787.3L1048.2,775.6L1054.3,761.3L1056.4,757.2L1058.5,753.9L1060.5,751.6L1064.6,748.6L1068.7,746.3L1070.8,745.5L1072.8,744.9L1079,743.9L1085.1,743.2L1089.2,743L1286,742.9" stroke="#d7182b" stroke-width="4.2"/>
</g>
<g clip-path="url(#clipD)" fill="none" stroke-linejoin="round" stroke-linecap="round">
<path d="M466,1617.1L507,1618.2L597.2,1621.2L636.1,1622.2L679.2,1622.8L728.4,1622.7L744.8,1622.3L751,1621.7L755,1621L759.1,1620L763.2,1618.3L765.3,1617.1L767.4,1615.6L769.4,1613.8L772.7,1609.8L775.5,1605L778,1599.4L780.5,1592.3L782.9,1583.1L785,1573.6L787,1561.9L789.1,1547.9L791.1,1531.3L792.8,1515.9L796.1,1479.5L798.9,1442L805.1,1354.9L807.5,1324.8L809.2,1309L810.4,1300L811.2,1295.6L812,1292.5L812.9,1290.7L813.3,1290.4L814.1,1290.6L815.3,1292.1L816.1,1293.8L817.4,1297.6L819.4,1306.8L821.9,1321.9L823.9,1337.4L826,1354.9L835.4,1443.9L839.9,1482.8L842.4,1501.6L844.8,1518.6L847.3,1533.7L850.2,1549L853,1561.9L856.3,1574.3L859.6,1584.2L862.9,1592.3L866.6,1599.4L870.3,1605L874.4,1609.6L876.8,1611.8L879.3,1613.6L883.4,1616.1L888.3,1618.1L893.6,1619.7L899.4,1620.8L905.9,1621.6L914.1,1622.1L924.4,1622.5L937.9,1622.7L1062.5,1622.8L1099.5,1622.5L1148.7,1621.3L1245,1618.2L1286,1617.1" stroke="#e2562b" stroke-width="1.8"/>
<path d="M466,1617.1L507,1618.2L603.3,1621.3L652.6,1622.5L689.5,1622.8L814.1,1622.7L827.6,1622.5L837.9,1622.1L846.1,1621.6L852.6,1620.8L858.4,1619.7L863.7,1618.1L868.6,1616.1L872.7,1613.6L875.2,1611.8L877.6,1609.6L881.7,1605L885.4,1599.4L889.1,1592.3L892.4,1584.2L895.7,1574.3L899,1561.9L901.8,1549L904.7,1533.7L907.2,1518.6L909.6,1501.6L912.1,1482.8L916.6,1443.9L926,1354.9L928.1,1337.4L930.1,1321.9L932.2,1309L934.2,1299.2L935.5,1294.9L936.3,1292.9L937.5,1290.9L938.3,1290.4L938.7,1290.4L939.1,1290.7L939.5,1291.4L940.4,1293.8L941.2,1297.6L942.4,1305.7L944.1,1320.5L946.9,1354.9L953.1,1442L956.4,1484.4L959.6,1519.9L961.3,1534.8L963.3,1550.9L965,1561.9L967,1573.6L969.1,1583.1L971.5,1592.3L974,1599.4L976.5,1605L979.3,1609.8L982.6,1613.8L984.7,1615.6L986.7,1617.1L988.8,1618.3L992.8,1620L996.9,1621L1001,1621.7L1007.2,1622.3L1023.6,1622.7L1072.8,1622.8L1115.8,1622.2L1154.8,1621.2L1245,1618.2L1286,1617.1" stroke="#e2562b" stroke-width="1.8"/>
<path d="M466,1609.6L599.2,1612.4L640.2,1613.1L683.3,1613.5L740.7,1613.4L755,1612.9L763.2,1611.9L767.4,1610.9L770.6,1609.7L773.5,1608.1L776.4,1606L779.6,1602.4L782.5,1598L785,1592.8L787.4,1586.1L789.9,1577.2L792,1567.9L794,1556.3L795.6,1545.3L798.9,1517.9L802.2,1482.4L805.1,1445.3L811.2,1357.8L813.7,1328.1L815.3,1312.9L816.5,1304.7L817.8,1299.6L818.6,1298.1L819,1297.9L819.8,1298.3L821.1,1300L821.9,1302L823.1,1306.2L825.2,1316.2L827.2,1329.5L830.9,1359.6L839.5,1441.5L844,1480.8L846.5,1499.7L848.9,1516.6L851.4,1531.4L853.9,1544.4L856.7,1557.2L859.6,1567.9L862.5,1576.6L865.8,1584.7L869,1591.1L872.7,1596.7L876.8,1601.3L878.9,1603.1L881.3,1604.9L885,1607.1L889.1,1608.9L894,1610.4L899.4,1611.4L905.5,1612.2L912.5,1612.8L932.6,1613.4L1060.5,1613.5L1097.4,1613.3L1146.6,1612.5L1286,1609.6" stroke="#e8742d" stroke-width="1.8"/>
<path d="M466,1609.6L605.4,1612.5L654.6,1613.3L691.5,1613.5L819.4,1613.4L839.5,1612.8L846.5,1612.2L852.6,1611.4L858,1610.4L862.9,1608.9L867,1607.1L870.7,1604.9L873.1,1603.1L875.2,1601.3L879.3,1596.7L883,1591.1L886.2,1584.7L889.5,1576.6L892.4,1567.9L895.3,1557.2L898.1,1544.4L900.6,1531.4L903.1,1516.6L905.5,1499.7L908,1480.8L912.5,1441.5L921.1,1359.6L924.8,1329.5L926.8,1316.2L928.9,1306.2L930.1,1302L930.9,1300L932.2,1298.3L933,1297.9L933.4,1298.1L934.2,1299.6L935.5,1304.7L936.7,1312.9L938.3,1328.1L940.8,1357.8L946.9,1445.3L949.8,1482.4L953.1,1517.9L956.4,1545.3L958,1556.3L960,1567.9L962.1,1577.2L964.6,1586.1L967,1592.8L969.5,1598L972.4,1602.4L975.6,1606L978.5,1608.1L981.4,1609.7L984.7,1610.9L988.8,1611.9L996.9,1612.9L1011.3,1613.4L1068.7,1613.5L1111.8,1613.1L1152.8,1612.4L1286,1609.6" stroke="#e8742d" stroke-width="1.8"/>
<path d="M466,1589.8L650.5,1591.5L703.8,1591.6L765.3,1591.4L780.5,1591.1L789.5,1590.5L793.2,1589.9L796.1,1589.1L798.5,1588.2L801,1586.8L803.8,1584.5L806.3,1581.6L808.8,1577.4L810.8,1572.7L812.9,1566.4L814.5,1560L816.1,1552.1L817.8,1542.4L820.6,1520.4L823.5,1491.2L826,1460.5L830.9,1392.6L833,1368.6L834.2,1357.5L835.4,1349.7L836.2,1346.6L836.6,1345.7L837,1345.3L837.5,1345.3L837.9,1345.5L838.7,1346.6L839.5,1348.4L840.3,1351L842,1358.4L843.6,1368.4L846.9,1394.2L853.9,1458.3L857.5,1489.1L861.2,1514.8L863.3,1526.7L865.3,1537L867.4,1545.8L869.9,1554.6L872.3,1561.8L875.2,1568.3L878.5,1574.2L881.7,1578.6L885.4,1582.2L889.5,1585L892.8,1586.6L896.5,1587.9L900.6,1588.8L905.5,1589.6L911.3,1590.2L917.8,1590.6L937.1,1591L1015.4,1591.5L1085.1,1591.6L1142.5,1591.2L1286,1589.8" stroke="#ef9732" stroke-width="1.8"/>
<path d="M466,1589.8L609.5,1591.2L666.9,1591.6L736.6,1591.5L814.9,1591L834.2,1590.6L840.7,1590.2L846.5,1589.6L851.4,1588.8L855.5,1587.9L859.2,1586.6L862.5,1585L866.6,1582.2L870.3,1578.6L873.5,1574.2L876.8,1568.3L879.7,1561.8L882.2,1554.6L884.6,1545.8L886.7,1537L888.7,1526.7L890.8,1514.8L894.5,1489.1L898.1,1458.3L905.1,1394.2L908.4,1368.4L910,1358.4L911.7,1351L912.5,1348.4L913.3,1346.6L914.1,1345.5L914.5,1345.3L915,1345.3L915.4,1345.7L915.8,1346.6L916.6,1349.7L917.8,1357.5L919,1368.6L921.1,1392.6L926,1460.5L928.5,1491.2L931.4,1520.4L934.2,1542.4L935.9,1552.1L937.5,1560L939.1,1566.4L941.2,1572.7L943.2,1577.4L945.7,1581.6L948.2,1584.5L951,1586.8L953.5,1588.2L956,1589.1L958.8,1589.9L962.5,1590.5L971.5,1591.1L986.7,1591.4L1048.2,1591.6L1101.5,1591.5L1286,1589.8" stroke="#ef9732" stroke-width="1.8"/>
<path d="M466,1574.8L640.2,1576.1L691.5,1576.2L720.2,1576.1L763.2,1575.4L797.3,1574.4L803.8,1573.9L808.4,1573.3L812,1572.5L814.9,1571.3L817.4,1569.9L819.8,1567.7L821.9,1565L823.9,1561.4L826,1556.3L827.6,1550.9L829.3,1544L830.5,1537.6L833,1521.3L835.4,1499.6L837.9,1472.6L842,1422.4L844,1401.3L845.2,1392.3L846.1,1388.2L846.9,1385.9L847.3,1385.5L847.7,1385.4L848.1,1385.7L848.9,1386.7L850.2,1389.7L851.4,1394.5L853,1403.1L855.5,1419.9L861.6,1469.2L864.9,1493.1L868.2,1513L869.9,1521.2L871.9,1529.9L874.4,1538.5L877.2,1546.5L879.7,1552.3L882.1,1556.9L885,1561L887.9,1564.1L891.2,1566.6L895.3,1568.8L900.2,1570.5L905.9,1571.7L913.3,1572.7L922.7,1573.4L933.8,1573.9L962.1,1574.7L1015.4,1575.8L1052.3,1576.2L1099.5,1576.1L1286,1574.8" stroke="#efc435" stroke-width="1.8"/>
<path d="M466,1574.8L652.6,1576.1L699.7,1576.2L736.6,1575.8L789.9,1574.7L818.2,1573.9L829.3,1573.4L838.7,1572.7L846.1,1571.7L851.8,1570.5L856.7,1568.8L860.8,1566.6L864.1,1564.1L867,1561L869.9,1556.9L872.3,1552.3L874.8,1546.5L877.6,1538.5L880.1,1529.9L882.2,1521.2L883.8,1513L887.1,1493.1L890.4,1469.2L896.5,1419.9L899,1403.1L900.6,1394.5L901.8,1389.7L903.1,1386.7L903.9,1385.7L904.3,1385.4L904.7,1385.5L905.1,1385.9L905.9,1388.2L906.8,1392.3L908,1401.3L910,1422.4L914.1,1472.6L916.6,1499.6L919,1521.3L921.5,1537.6L922.7,1544L924.4,1550.9L926,1556.3L928.1,1561.4L930.1,1565L932.2,1567.7L934.6,1569.9L937.1,1571.3L940,1572.5L943.6,1573.3L948.2,1573.9L954.7,1574.4L988.8,1575.4L1031.8,1576.1L1060.5,1576.2L1111.8,1576.1L1286,1574.8" stroke="#efc435" stroke-width="1.8"/>
<path d="M466,1563.7L636.1,1563L693.5,1562.6L718.1,1562.2L759.1,1561L802.2,1559.2L816.5,1558.1L820.6,1557.4L823.9,1556.4L826.4,1555.3L828.9,1553.6L830.9,1551.5L832.5,1549.2L834.2,1546.1L835.8,1542.1L837.5,1536.8L838.7,1531.8L841.1,1518.6L843.6,1500.5L845.7,1481.7L849.4,1444.4L851,1430.4L852.6,1421L853.5,1418.5L853.9,1417.9L854.3,1417.7L855.1,1418L856.3,1419.9L857.6,1423.4L858.8,1428.2L861.2,1441.2L867.4,1480.5L870.3,1496.6L873.5,1511.4L878.5,1528L880.5,1533.5L882.6,1538L884.6,1541.7L887.1,1545.1L889.9,1548L892.8,1550.3L896.1,1552.1L899.8,1553.6L905.1,1555.1L911.7,1556.2L919.9,1557.3L929.3,1558.1L974,1560.3L1019.5,1561.9L1050.2,1562.5L1095.4,1562.9L1286,1563.7" stroke="#e3da4e" stroke-width="1.8"/>
<path d="M466,1563.7L656.7,1562.9L701.8,1562.5L732.5,1561.9L778,1560.3L822.7,1558.1L832.1,1557.3L840.3,1556.2L846.9,1555.1L852.2,1553.6L855.9,1552.1L859.2,1550.3L862.1,1548L864.9,1545.1L867.4,1541.7L869.4,1538L871.5,1533.5L873.5,1528L878.5,1511.4L881.7,1496.6L884.6,1480.5L890.8,1441.2L893.2,1428.2L894.4,1423.4L895.7,1419.9L896.9,1418L897.7,1417.7L898.1,1417.9L898.5,1418.5L899.4,1421L901,1430.4L902.6,1444.4L906.3,1481.7L908.4,1500.5L910.9,1518.6L913.3,1531.8L914.5,1536.8L916.2,1542.1L917.8,1546.1L919.5,1549.2L921.1,1551.5L923.1,1553.6L925.6,1555.3L928.1,1556.4L931.4,1557.4L935.5,1558.1L949.8,1559.2L992.8,1561L1033.8,1562.2L1058.5,1562.6L1115.8,1563L1286,1563.7" stroke="#e3da4e" stroke-width="1.8"/>
<path d="M466,1554.3L623.9,1552.4L675.1,1551.5L716.1,1550.5L757.1,1549L794.8,1547L819.8,1545.2L825.6,1544.4L830.1,1543.5L833,1542.4L835.4,1541.1L837.5,1539.5L839.1,1537.7L840.7,1535.2L842.4,1532L843.6,1528.8L844.8,1525L847.3,1514.5L849.4,1502.4L851.4,1487.5L854.7,1460.9L856.3,1449.6L857.1,1445.3L858,1442.3L858.8,1440.6L859.2,1440.3L859.6,1440.3L860.4,1440.7L861.6,1442.5L862.5,1444.5L863.7,1448.4L865.8,1456.9L870.7,1480.8L873.5,1493.3L878.5,1511.2L880.5,1517.4L882.6,1522.5L884.2,1525.8L886.2,1529.2L888.7,1532.4L891.2,1534.8L894,1537L896.9,1538.6L900.2,1539.9L903.9,1541.1L909.6,1542.4L916.2,1543.5L924.4,1544.5L933,1545.3L975.6,1548L1021.5,1550L1058.5,1551.1L1115.8,1552.2L1286,1554.3" stroke="#cbd750" stroke-width="1.8"/>
<path d="M466,1554.3L636.1,1552.2L693.5,1551.1L730.5,1550L776.4,1548L819,1545.3L827.6,1544.5L835.8,1543.5L842.4,1542.4L848.1,1541.1L851.8,1539.9L855.1,1538.6L858,1537L860.8,1534.8L863.3,1532.4L865.8,1529.2L867.8,1525.8L869.4,1522.5L871.5,1517.4L873.5,1511.2L878.5,1493.3L881.3,1480.8L886.2,1456.9L888.3,1448.4L889.5,1444.5L890.4,1442.5L891.6,1440.7L892.4,1440.3L892.8,1440.3L893.2,1440.6L894,1442.3L894.9,1445.3L895.7,1449.6L897.3,1460.9L900.6,1487.5L902.6,1502.4L904.7,1514.5L907.2,1525L908.4,1528.8L909.6,1532L911.3,1535.2L912.9,1537.7L914.5,1539.5L916.6,1541.1L919,1542.4L921.9,1543.5L926.4,1544.4L932.2,1545.2L957.2,1547L994.9,1549L1035.9,1550.5L1076.9,1551.5L1128.2,1552.4L1286,1554.3" stroke="#cbd750" stroke-width="1.8"/>
<path d="M466,1538.9L617.7,1534.7L664.9,1532.9L707.9,1531L744.8,1528.8L776.8,1526.3L808.8,1523.1L821.1,1521.5L829.3,1520.2L840.7,1517.7L850.2,1515L852.6,1514L854.3,1512.9L855.5,1511.8L856.7,1510.3L858.4,1507L860,1501.3L861.6,1492.2L864.9,1468.1L865.8,1464.9L866.2,1464.3L866.6,1464.3L867.4,1465.3L868.2,1467.5L871.9,1483.6L874,1490.5L874.8,1492.3L876,1494.3L877.2,1497.3L878.9,1500.3L880.9,1503.3L883.4,1506L885.8,1508L889.5,1510.2L893.6,1512.2L898.1,1514L903.9,1515.7L910.9,1517.6L917.8,1519.2L924.4,1520.5L932.2,1521.7L946.1,1523.4L976.9,1526.5L1009.2,1528.9L1044.1,1531L1087.2,1532.9L1134.3,1534.7L1286,1538.9" stroke="#a3c64c" stroke-width="2.0"/>
<path d="M466,1538.9L617.7,1534.7L664.9,1532.9L707.9,1531L742.8,1528.9L775.1,1526.5L805.9,1523.4L819.8,1521.7L827.6,1520.5L834.2,1519.2L841.1,1517.6L848.1,1515.7L853.9,1514L858.4,1512.2L862.5,1510.2L866.2,1508L868.6,1506L871.1,1503.3L873.1,1500.3L874.8,1497.3L876,1494.3L877.2,1492.3L878.1,1490.5L880.1,1483.6L883.8,1467.5L884.6,1465.3L885.4,1464.3L885.8,1464.3L886.2,1464.9L887.1,1468.1L890.4,1492.2L892,1501.3L893.6,1507L895.3,1510.3L896.5,1511.8L897.7,1512.9L899.4,1514L901.8,1515L911.3,1517.7L922.7,1520.2L930.9,1521.5L943.2,1523.1L975.2,1526.3L1007.2,1528.8L1044.1,1531L1087.2,1532.9L1134.3,1534.7L1286,1538.9" stroke="#a3c64c" stroke-width="2.0"/>
<path d="M466,1526.7L603.3,1521.7L648.5,1519.7L687.4,1517.7L730.5,1515L761.2,1512.7L789.5,1510L815.3,1506.8L828,1504.8L840.3,1501.8L852.6,1498L856.3,1496.5L859.6,1494.7L861.2,1493.6L862.9,1492.2L864.1,1490.7L865.3,1488.8L867.4,1484.1L869.9,1476.1L871.1,1472.7L871.9,1471.5L872.3,1471.2L873.1,1471L874.4,1471.5L876,1473.1L878,1478.4L879.7,1482L881.3,1485L883.4,1488L885,1489.9L886.7,1491.3L891.6,1494.5L895.3,1496.3L899.4,1498L905.9,1500.2L912.5,1502.1L925.2,1505L938.3,1507.1L964.6,1510.2L992.8,1512.9L1023.6,1515.2L1064.6,1517.7L1103.5,1519.7L1148.7,1521.7L1286,1526.7" stroke="#6fae52" stroke-width="2.0"/>
<path d="M466,1526.7L603.3,1521.7L648.5,1519.7L687.4,1517.7L728.4,1515.2L759.1,1512.9L787.4,1510.2L813.7,1507.1L826.8,1505L839.5,1502.1L846.1,1500.2L852.6,1498L856.7,1496.3L860.4,1494.5L865.3,1491.3L867,1489.9L868.6,1488L870.7,1485L872.3,1482L874,1478.4L876,1473.1L877.6,1471.5L878.9,1471L879.7,1471.2L880.1,1471.5L880.9,1472.7L882.2,1476.1L884.6,1484.1L886.7,1488.8L887.9,1490.7L889.1,1492.2L890.8,1493.6L892.4,1494.7L895.7,1496.5L899.4,1498L911.7,1501.8L924,1504.8L936.7,1506.8L962.5,1510L990.8,1512.7L1021.5,1515L1064.6,1517.7L1103.5,1519.7L1148.7,1521.7L1286,1526.7" stroke="#6fae52" stroke-width="2.0"/>
<path d="M466,1515.2L591,1511.1L664.9,1508L705.9,1505.9L738.6,1504L765.3,1502L787.4,1500.1L807.5,1497.9L823.5,1495.8L834.6,1493.7L846.1,1490.9L855.1,1488L858.8,1486.5L862.9,1484.5L867.8,1481.6L876,1475.1L884.2,1481.6L889.1,1484.5L893.2,1486.5L896.9,1488L905.9,1490.9L917.4,1493.7L928.5,1495.8L944.5,1497.9L964.6,1500.1L986.7,1502L1013.4,1504L1046.2,1505.9L1087.2,1508L1161,1511.1L1286,1515.2" stroke="#58a662" stroke-width="2.4"/>
<path d="M466,1507.4L572.6,1503.2L701.8,1497.6L757.1,1495.4L784.2,1494.1L807.5,1492.7L821.1,1491.6L830.9,1490.6L842,1489L852.6,1487.1L859.2,1485.5L866.2,1483.3L876,1478.7L885.8,1483.3L892.8,1485.5L899.4,1487.1L910,1489L921.1,1490.6L930.9,1491.6L944.5,1492.7L967.8,1494.1L994.9,1495.4L1050.2,1497.6L1179.4,1503.2L1286,1507.4" stroke="#4ea183" stroke-width="2.4"/>
<path d="M466,1500.9L697.7,1495.4L772.7,1493.8L812,1492.7L833,1491.7L853.5,1490L866.2,1488.2L876,1485.8L885.8,1488.2L898.5,1490L919,1491.7L940,1492.7L979.3,1493.8L1054.3,1495.4L1286,1500.9" stroke="#48a8c2" stroke-width="2.4"/>
<path d="M466,1502.3L671,1497.1L707.9,1496.3L784.2,1495.1L820.2,1494.2L837.9,1493.5L855.1,1492.4L866.6,1491.1L876,1489.4L885.4,1491.1L896.9,1492.4L914.1,1493.5L931.8,1494.2L967.8,1495.1L1044.1,1496.3L1081,1497.1L1286,1502.3" stroke="#2b8cc8" stroke-width="2.4"/>
<path d="M466,1505.9L664.9,1502L825.6,1500.3L856.3,1499.4L866.6,1498.9L876,1498L885.4,1498.9L895.7,1499.4L926.4,1500.3L1087.2,1502L1286,1505.9" stroke="#1c58a0" stroke-width="1.8"/>
<path d="M466,1510.6L666.9,1507.6L822.7,1506.3L855.5,1505.4L866.6,1504.9L876,1504.1L885.4,1504.9L896.5,1505.4L929.3,1506.3L1085.1,1507.6L1286,1510.6" stroke="#1f4c94" stroke-width="1.8"/>
<path d="M466,1514.2L664.9,1511.6L824.8,1510.4L856.3,1509.8L876,1508.8L895.7,1509.8L927.2,1510.4L1087.2,1511.6L1286,1514.2" stroke="#3c4a9b" stroke-width="1.8"/>
<path d="M466,1517L664.9,1515.1L825.6,1514.2L856.3,1513.8L876,1513.1L895.7,1513.8L926.4,1514.2L1087.2,1515.1L1286,1517" stroke="#5a4b9d" stroke-width="1.8"/>
<path d="M466,1521L822.7,1520.5L876,1520.3L929.3,1520.5L1286,1521" stroke="#75499a" stroke-width="1.8"/>
<path d="M466,1525.6L1286,1525.6" stroke="#8a4a98" stroke-width="1.8"/>
<path d="M466,1730.4L654.6,1730.4L660.8,1729.8L662.8,1729.5L664.9,1728.8L666.9,1727.1L669,1724.8L671,1721.8L673,1717.6L677.1,1707.8L679.2,1702.1L681.2,1696L685.4,1682.4L687.4,1674.4L689.5,1664.3L691.5,1649.6L695.6,1611.2L699.7,1562.2L701.8,1540L707.9,1478.6L712,1427.4L714,1405.4L716.1,1387.4L718.1,1372.8L720.2,1361.2L722.2,1366.1L726.4,1396.2L728.4,1437.7L730.5,1529.7L732.5,1584.7L736.6,1650.2L738.6,1672L740.7,1685.2L742.8,1695.4L744.8,1703.9L746.9,1711.1L748.9,1717.2L751,1722.3L753,1725.3L755,1727.3L757.1,1728.7L759.1,1729.4L763.2,1730L770.2,1730.4L1286,1730.4" stroke="#d7182b" stroke-width="4.2"/>
<path d="M466,1730.4L981.8,1730.4L988.8,1730L992.8,1729.4L994.9,1728.7L996.9,1727.3L999,1725.3L1001,1722.3L1003.1,1717.2L1005.1,1711.1L1007.2,1703.9L1009.2,1695.4L1011.3,1685.2L1013.4,1672L1015.4,1650.2L1019.5,1584.7L1021.5,1529.7L1023.6,1437.7L1025.7,1396.2L1029.8,1366.1L1031.8,1361.2L1033.8,1372.8L1035.9,1387.4L1038,1405.4L1040,1427.4L1044.1,1478.6L1050.2,1540L1052.3,1562.2L1056.4,1611.2L1060.5,1649.6L1062.5,1664.3L1064.6,1674.4L1066.7,1682.4L1070.8,1696L1072.8,1702.1L1074.9,1707.8L1079,1717.6L1081,1721.8L1083,1724.8L1085.1,1727.1L1087.2,1728.8L1089.2,1729.5L1091.2,1729.8L1097.4,1730.4L1286,1730.4" stroke="#d7182b" stroke-width="4.2"/>
</g>
<rect x="466.1" y="688.6" width="819.1999999999999" height="1078.4" fill="none" stroke="#1a1311" stroke-width="2"/>
<line x1="466.1" y1="1227.9" x2="1285.3" y2="1227.9" stroke="#1a1311" stroke-width="2"/>
<path d="M568.5,688.6v7M568.5,1220.9v14M568.5,1767.0v-6.5M671.0,688.6v14M671.0,1213.9v28M671.0,1767.0v-13.5M773.5,688.6v7M773.5,1220.9v14M773.5,1767.0v-6.5M876.0,688.6v14M876.0,1213.9v28M876.0,1767.0v-13.5M978.5,688.6v7M978.5,1220.9v14M978.5,1767.0v-6.5M1081.0,688.6v14M1081.0,1213.9v28M1081.0,1767.0v-13.5M1183.5,688.6v7M1183.5,1220.9v14M1183.5,1767.0v-6.5M466.1,1173.7h14.5M1285.3,1173.7h-14.5M466.1,1119.8h7.3M1285.3,1119.8h-7.3M466.1,1066.0h14.5M1285.3,1066.0h-14.5M466.1,1012.1h7.3M1285.3,1012.1h-7.3M466.1,958.3h14.5M1285.3,958.3h-14.5M466.1,904.4h7.3M1285.3,904.4h-7.3M466.1,850.6h14.5M1285.3,850.6h-14.5M466.1,796.8h7.3M1285.3,796.8h-7.3M466.1,742.9h14.5M1285.3,742.9h-14.5M466.1,1730.4h14.5M1285.3,1730.4h-14.5M466.1,1640.8h7.3M1285.3,1640.8h-7.3M466.1,1551.1h14.5M1285.3,1551.1h-14.5M466.1,1461.5h7.3M1285.3,1461.5h-7.3M466.1,1371.8h14.5M1285.3,1371.8h-14.5M466.1,1282.2h7.3M1285.3,1282.2h-7.3" stroke="#1a1311" stroke-width="1.8" fill="none"/>
<text transform="translate(405.55,752.40)" font-size="32" fill="#1a1311" stroke="#1a1311" stroke-width="0.45">1.0</text>
<text transform="translate(405.55,859.70)" font-size="32" fill="#1a1311" stroke="#1a1311" stroke-width="0.45">0.5</text>
<text transform="translate(405.55,967.70)" font-size="32" fill="#1a1311" stroke="#1a1311" stroke-width="0.45">0.0</text>
<text transform="translate(394.93,1075.40)" font-size="32" fill="#1a1311" stroke="#1a1311" stroke-width="0.45">-0.5</text>
<text transform="translate(394.93,1183.20)" font-size="32" fill="#1a1311" stroke="#1a1311" stroke-width="0.45">-1.0</text>
<text transform="translate(405.55,1381.80)" font-size="32" fill="#1a1311" stroke="#1a1311" stroke-width="0.45">1.0</text>
<text transform="translate(405.55,1560.50)" font-size="32" fill="#1a1311" stroke="#1a1311" stroke-width="0.45">0.5</text>
<text transform="translate(405.55,1741.60)" font-size="32" fill="#1a1311" stroke="#1a1311" stroke-width="0.45">0.0</text>
<text transform="translate(428.87,1807.50) scale(0.9680,1.0000)" font-size="32" fill="#1a1311" stroke="#1a1311" stroke-width="0.45">-0.50</text>
<text transform="translate(633.87,1807.50) scale(0.9680,1.0000)" font-size="32" fill="#1a1311" stroke="#1a1311" stroke-width="0.45">-0.25</text>
<text transform="translate(845.40,1807.50) scale(0.9607,1.0000)" font-size="32" fill="#1a1311" stroke="#1a1311" stroke-width="0.45">0.00</text>
<text transform="translate(1049.80,1807.50) scale(0.9573,1.0000)" font-size="32" fill="#1a1311" stroke="#1a1311" stroke-width="0.45">0.25</text>
<text transform="translate(1254.31,1807.50) scale(0.9523,1.0000)" font-size="32" fill="#1a1311" stroke="#1a1311" stroke-width="0.45">0.50</text>
<text transform="translate(815.61,1857.60) scale(0.9647,1.0000)" font-size="35" fill="#1a1311" stroke="#1a1311" stroke-width="0.45">µ</text>
<text transform="translate(836.64,1870.30) scale(1.0173,1.0000)" font-size="21" fill="#1a1311" stroke="#1a1311" stroke-width="0.45">0</text>
<text transform="translate(849.52,1857.60) scale(1.0533,1.0000)" font-size="36" font-style="italic" fill="#1a1311" stroke="#1a1311" stroke-width="0.45">H</text>
<text transform="translate(886.31,1857.60) scale(1.0602,1.0000)" font-size="36" fill="#1a1311" stroke="#1a1311" stroke-width="0.45">(T)</text>
<text transform="translate(376.80,1028.62) rotate(-90) scale(1.1212,1)" font-size="35.5" fill="#1a1311" stroke="#1a1311" stroke-width="0.45">ρ</text>
<text transform="translate(391.00,1005.49) rotate(-90) scale(0.9547,1)" font-size="23.5" font-family="Liberation Serif, serif" font-style="italic" fill="#1a1311" stroke="#1a1311" stroke-width="0.45">yx</text>
<text transform="translate(376.80,984.70) rotate(-90) scale(1.0277,1)" fill="#1a1311" stroke="#1a1311" stroke-width="0.45"><tspan font-size="42">(</tspan><tspan font-size="42" font-style="italic">h</tspan><tspan font-size="42">/</tspan><tspan font-size="42" font-style="italic">e</tspan><tspan font-size="20" dy="-14.00">2</tspan><tspan font-size="42" dy="14.00">)</tspan></text>
<text transform="translate(376.80,1531.98) rotate(-90) scale(1.1030,1)" font-size="35.5" fill="#1a1311" stroke="#1a1311" stroke-width="0.45">ρ</text>
<text transform="translate(391.00,1508.87) rotate(-90) scale(0.9341,1)" font-size="23.5" font-family="Liberation Serif, serif" font-style="italic" fill="#1a1311" stroke="#1a1311" stroke-width="0.45">xx</text>
<text transform="translate(376.80,1488.50) rotate(-90) scale(1.0277,1)" fill="#1a1311" stroke="#1a1311" stroke-width="0.45"><tspan font-size="42">(</tspan><tspan font-size="42" font-style="italic">h</tspan><tspan font-size="42">/</tspan><tspan font-size="42" font-style="italic">e</tspan><tspan font-size="20" dy="-14.00">2</tspan><tspan font-size="42" dy="14.00">)</tspan></text>
<text transform="translate(501.58,731.30) scale(1.0262,1.0000)" font-size="49" font-weight="bold" fill="#231815" stroke="#231815" stroke-width="0.45">c</text>
<text transform="translate(500.85,1309.50) scale(1.0747,1.0000)" font-size="49" font-weight="bold" fill="#231815" stroke="#231815" stroke-width="0.45">d</text>
<text transform="translate(501.26,888.20) scale(1.0458,1.0000)" font-size="36" fill="#231815" stroke="#231815" stroke-width="0.45">Device B</text>
<text transform="translate(1092.31,1331.90) scale(1.0836,1.0000)" font-size="36" font-style="italic" fill="#231815" stroke="#231815" stroke-width="0.45">V</text>
<text transform="translate(1117.54,1332.30) scale(1.1566,1.0000)" font-size="23" fill="#231815" stroke="#231815" stroke-width="0.45">g</text>
<text transform="translate(1142.40,1331.90) scale(1.1429,1.0000)" font-size="36" fill="#231815" stroke="#231815" stroke-width="0.45">=</text>
<text transform="translate(1179.41,1331.90) scale(1.0836,1.0000)" font-size="36" font-style="italic" fill="#231815" stroke="#231815" stroke-width="0.45">V</text>
<text transform="translate(1204.75,1332.30) scale(1.1470,1.0000)" font-size="23" fill="#231815" stroke="#231815" stroke-width="0.45">g</text>
<text transform="translate(1218.64,1319.10) scale(1.1532,1.0000)" font-size="20" fill="#231815" stroke="#231815" stroke-width="0.45">0</text>
<text transform="translate(1314.44,747.80) scale(1.0641,1.0000)" font-size="35.5" fill="#d5283a" stroke="#d5283a" stroke-width="0.45">20mK</text>
<text transform="translate(1316.17,788.40) scale(1.0304,1.0000)" font-size="35.5" fill="#de623a" stroke="#de623a" stroke-width="0.45">1.7K</text>
<text transform="translate(1316.32,956.60) scale(1.0721,1.0000)" font-size="35.5" fill="#8b4d8c" stroke="#8b4d8c" stroke-width="0.45">60K</text>
<text transform="translate(1315.16,1506.20) scale(1.0525,1.0000)" font-size="35.5" fill="#8b4d8c" stroke="#8b4d8c" stroke-width="0.45">60K</text>
<text transform="translate(1316.14,1646.80) scale(1.0390,1.0000)" font-size="35.5" fill="#de623a" stroke="#de623a" stroke-width="0.45">1.7K</text>
<text transform="translate(1314.44,1739.00) scale(1.0641,1.0000)" font-size="35.5" fill="#d5283a" stroke="#d5283a" stroke-width="0.45">20mK</text>
<path d="M1343.7,797.2V890" stroke="#000" stroke-width="1.7" fill="none"/><path d="M1343.7,903.7 L1335.7,885.5 L1343.7,889.6 L1351.7,885.5Z" fill="#000"/>
<path d="M1350.9,1590.4V1540" stroke="#000" stroke-width="1.7" fill="none"/><path d="M1350.9,1526.1 L1342.9,1544.3 L1350.9,1540.2 L1358.9,1544.3Z" fill="#000"/>
</svg>
</body></html>
